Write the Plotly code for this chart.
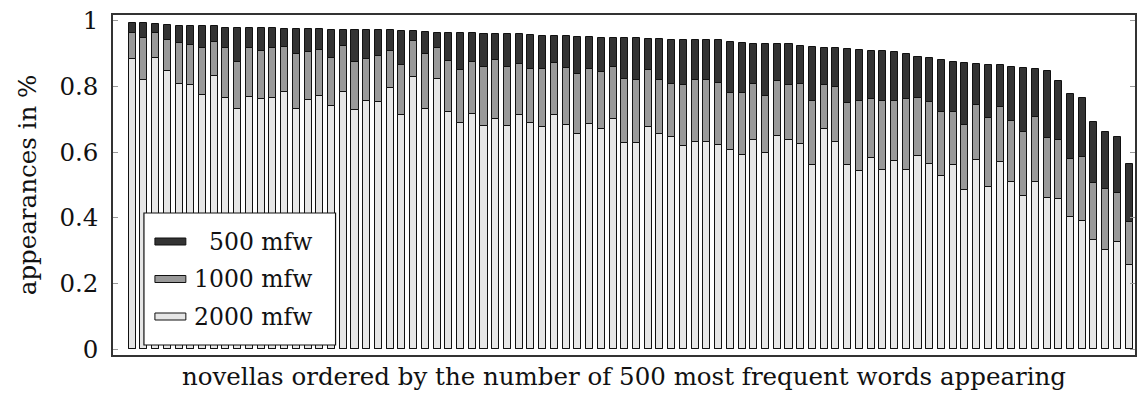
import plotly.graph_objects as go

# Share of novellas in which each word appears, for three vocabulary sizes
mfw_500 = [0.995, 0.993, 0.991, 0.989, 0.986, 0.986, 0.983, 0.983, 0.977, 0.977,
           0.977, 0.977, 0.977, 0.975, 0.975, 0.975, 0.975, 0.973, 0.973, 0.973,
           0.971, 0.971, 0.971, 0.970, 0.970, 0.966, 0.963, 0.963, 0.963, 0.963,
           0.960, 0.960, 0.959, 0.959, 0.957, 0.955, 0.955, 0.953, 0.951, 0.951,
           0.949, 0.949, 0.949, 0.947, 0.945, 0.945, 0.943, 0.943, 0.943, 0.943,
           0.941, 0.935, 0.933, 0.931, 0.929, 0.929, 0.929, 0.925, 0.919, 0.917,
           0.917, 0.915, 0.911, 0.909, 0.907, 0.905, 0.898, 0.890, 0.887, 0.882,
           0.875, 0.873, 0.870, 0.867, 0.865, 0.859, 0.857, 0.853, 0.846, 0.817,
           0.778, 0.764, 0.693, 0.661, 0.646, 0.563]
mfw_1000 = [0.962, 0.948, 0.962, 0.943, 0.934, 0.926, 0.916, 0.937, 0.916, 0.876,
            0.916, 0.909, 0.918, 0.919, 0.900, 0.905, 0.912, 0.886, 0.924, 0.875,
            0.885, 0.892, 0.909, 0.866, 0.940, 0.899, 0.918, 0.879, 0.850, 0.876,
            0.860, 0.881, 0.859, 0.869, 0.852, 0.853, 0.871, 0.857, 0.838, 0.854,
            0.845, 0.859, 0.822, 0.820, 0.851, 0.820, 0.809, 0.806, 0.820, 0.819,
            0.812, 0.781, 0.780, 0.809, 0.772, 0.816, 0.804, 0.809, 0.757, 0.805,
            0.799, 0.751, 0.757, 0.761, 0.757, 0.757, 0.761, 0.764, 0.754, 0.722,
            0.723, 0.683, 0.745, 0.705, 0.739, 0.695, 0.661, 0.708, 0.644, 0.638,
            0.580, 0.584, 0.505, 0.488, 0.475, 0.388]
mfw_2000 = [0.884, 0.819, 0.886, 0.846, 0.808, 0.806, 0.773, 0.831, 0.766, 0.731,
            0.769, 0.761, 0.764, 0.783, 0.731, 0.759, 0.770, 0.741, 0.783, 0.729,
            0.756, 0.753, 0.797, 0.713, 0.828, 0.731, 0.823, 0.721, 0.688, 0.717,
            0.681, 0.702, 0.681, 0.712, 0.689, 0.677, 0.713, 0.684, 0.655, 0.686,
            0.672, 0.702, 0.627, 0.629, 0.676, 0.654, 0.647, 0.619, 0.632, 0.632,
            0.622, 0.607, 0.592, 0.636, 0.599, 0.648, 0.638, 0.624, 0.561, 0.670,
            0.632, 0.560, 0.543, 0.581, 0.546, 0.574, 0.545, 0.589, 0.565, 0.526,
            0.561, 0.485, 0.577, 0.495, 0.569, 0.510, 0.465, 0.510, 0.461, 0.456,
            0.403, 0.389, 0.331, 0.303, 0.326, 0.257]

series_names = ["500 mfw", "1000 mfw", "2000 mfw"]
series_values = [mfw_500, mfw_1000, mfw_2000]
series_colors = ["#333333", "#999999", "#e6e6e6"]

y_ticks = [0, 0.2, 0.4, 0.6, 0.8, 1.0]
y_tick_labels = ["0", "0.2", "0.4", "0.6", "0.8", "1"]

novellas = list(range(len(mfw_500)))

FONT = "DejaVu Serif"
FS = 24.5
W, H = 1142, 393
PL, PR, PT, PB = 113, 1137, 15, 355


def px(x):
    return (x - PL) / (PR - PL)


def py(y):
    return (PB - y) / (PB - PT)


fig = go.Figure()
for name, vals, col in zip(series_names, series_values, series_colors):
    fig.add_trace(go.Bar(
        x=novellas, y=vals, name=name, width=0.6,
        marker=dict(color=col, line=dict(color="#111111", width=1)),
        showlegend=False,
    ))

# Hand-built legend box with wide, flat swatches
shapes = [dict(type="rect", xref="paper", yref="paper",
               x0=px(144), x1=px(336), y0=py(345), y1=py(213),
               fillcolor="white", line=dict(color="#111111", width=1.2),
               layer="above")]
annotations = []
row_y = [241.5, 279, 316.5]
for name, col, ry in zip(series_names, series_colors, row_y):
    shapes.append(dict(type="rect", xref="paper", yref="paper",
                       x0=px(155), x1=px(186), y0=py(ry + 3.5), y1=py(ry - 3.5),
                       fillcolor=col, line=dict(color="#111111", width=1),
                       layer="above"))
    annotations.append(dict(xref="paper", yref="paper", x=px(314), y=py(ry),
                            text=name, showarrow=False, xanchor="right",
                            yanchor="middle",
                            font=dict(family=FONT, size=23.5, color="#111111")))

fig.update_layout(
    width=W, height=H,
    margin=dict(l=PL, r=W - PR, t=PT, b=H - PB),
    paper_bgcolor="white", plot_bgcolor="white",
    barmode="overlay", bargap=0,
    font=dict(family=FONT, size=FS, color="#111111"),
    shapes=shapes, annotations=annotations,
)
fig.update_xaxes(
    range=[-1.63, 85.5], showticklabels=False, ticks="", showgrid=False,
    zeroline=False, showline=True, mirror=True, linecolor="#333333", linewidth=1.5,
    title=dict(text="novellas ordered by the number of 500 most frequent words appearing",
               font=dict(family=FONT, size=FS), standoff=12),
)
fig.update_yaxes(
    range=[-0.018, 1.018], tickvals=y_ticks, ticktext=y_tick_labels,
    ticks="inside", ticklen=5, tickcolor="#999999", tickwidth=1,
    ticklabelstandoff=8,
    showgrid=False, zeroline=False, showline=True, mirror="ticks",
    linecolor="#333333", linewidth=1.5,
    tickfont=dict(family=FONT, size=FS),
    title=dict(text="appearances in %", font=dict(family=FONT, size=FS), standoff=16),
)

fig.write_html("out.html")
